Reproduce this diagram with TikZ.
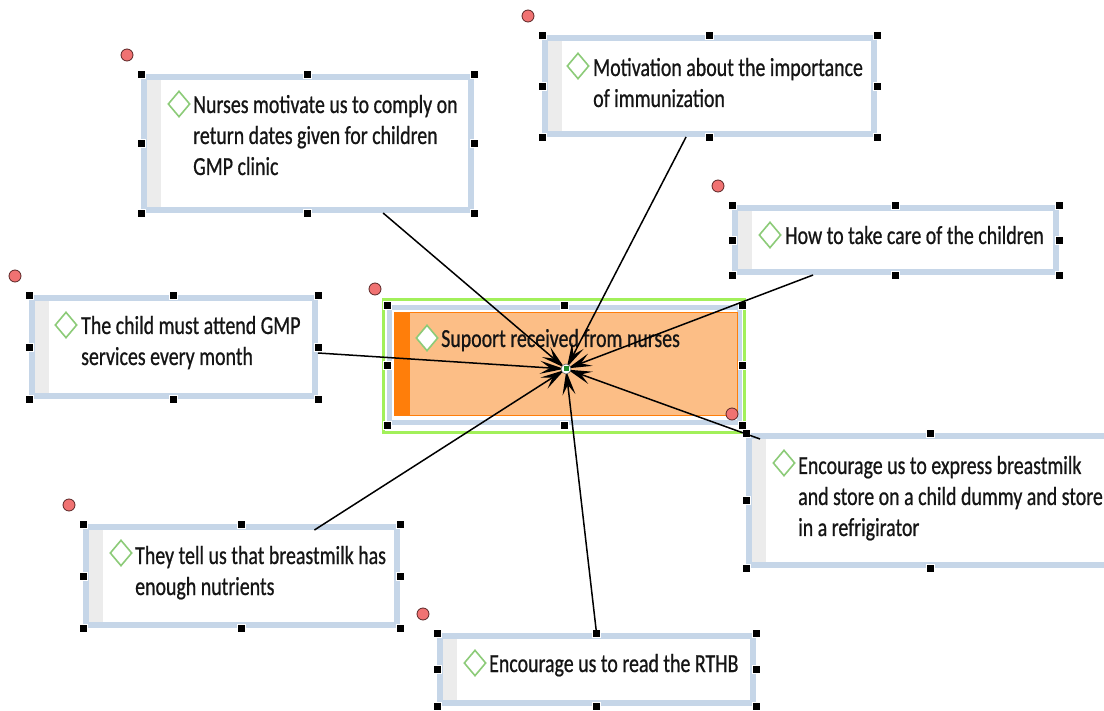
\documentclass[tikz,border=0pt]{standalone}
\usepackage{fontspec}
\setmainfont{Carlito}[FakeStretch=0.765,FakeBold=0.7]
\usetikzlibrary{calc,arrows.meta,shapes.geometric}

\definecolor{framecol}{HTML}{C6D6E8}
\definecolor{stripcol}{HTML}{ECECEC}
\definecolor{diamcol}{HTML}{8CCB78}
\definecolor{dotcol}{HTML}{F07272}
\definecolor{dotline}{HTML}{5A2525}
\definecolor{limecol}{HTML}{A2F05A}
\definecolor{peach}{HTML}{FCBE86}
\definecolor{orangecol}{HTML}{FF7E0A}
\definecolor{inkcol}{HTML}{151515}
\definecolor{hubgreen}{HTML}{1E8A2A}

\tikzset{
  framebox/.style={draw=framecol, line width=6pt, inner sep=0pt, outer sep=3pt, fill=white},
  handle/.style={fill=black, draw=white, line width=0.6pt},
  reddot/.style={circle, fill=dotcol, draw=dotline, line width=0.8pt, minimum size=12pt, inner sep=0pt},
  diam/.style={diamond, draw=diamcol, fill=white, line width=1.6pt, minimum width=22pt, minimum height=26pt, inner sep=0pt},
  txt/.style={anchor=base west, inner sep=0pt, text=inkcol, font=\fontsize{26}{31}\selectfont},
  link/.style={draw=black, line width=1.5pt, -{Stealth[length=24pt,width=13pt,inset=10pt]}, shorten >=2pt},
}

% a framed item: name, left, top, right, bottom
\newcommand\itembox[5]{%
  \node[framebox, minimum width={#4-#2-6}, minimum height={#5-#3-6}] (#1) at ({(#2+#4)/2},{(#3+#5)/2}) {};
  \fill[stripcol] (#2+6,#3+6) rectangle (#2+20,#5-6);
  \foreach \a in {north west,north,north east,west,east,south west,south,south east}
    \path[handle] (#1.\a) +(-4,-4) rectangle +(4,4);
  \node[reddot] (#1-dot) at (#2-14,#3-19) {};
}

\begin{document}
\begin{tikzpicture}[x=1pt,y=-1pt]
\useasboundingbox (0,0) rectangle (1104,711);
\clip (0,0) rectangle (1104,711);

% central topic
\node[draw=limecol, line width=3pt, minimum width=361pt, minimum height=133pt, inner sep=0pt] (hubsel) at (564,366) {};
\node[draw=framecol, line width=5pt, minimum width=350pt, minimum height=115pt, inner sep=0pt, outer sep=2.5pt] (hubbox) at (564.5,365) {};
\node[fill=peach, draw=orangecol, line width=1pt, minimum width=343pt, minimum height=103pt, inner sep=0pt] (hubfill) at (565.5,364.5) {};
\fill[orangecol] (hubfill.north west) rectangle ($(hubfill.south west)+(16,0)$);
\foreach \a in {north west,north,north east,west,east,south west,south,south east}
  \path[handle] (hubbox.\a) +(-4,-4) rectangle +(4,4);
\node[reddot] (hubbox-dot) at (375,289) {};
\node[diam] (d0) at (427,338) {};
\node[txt] (t0) at (441,347) {Supoort received from nurses};

% surrounding items
\itembox{b1}{141}{74}{474}{213}
\itembox{b2}{542}{35}{877}{137}
\itembox{b3}{732}{205}{1059}{275}
\itembox{b4}{29}{295}{318}{399}
\itembox{b5}{746}{433}{1114}{568}
\itembox{b6}{83}{524}{400}{628}
\itembox{b7}{437}{633}{756}{706}

\node[diam] (d1) at (179,104) {};
\node[txt] (t1) at (193,113) {\begin{tabular}[t]{@{}l@{}}Nurses motivate us to comply on\\return dates given for children\\GMP clinic\end{tabular}};
\node[diam] (d2) at (578,66) {};
\node[txt] (t2) at (593,76) {\begin{tabular}[t]{@{}l@{}}Motivation about the importance\\of immunization\end{tabular}};
\node[diam] (d3) at (770,235) {};
\node[txt] (t3) at (785,244) {How to take care of the children};
\node[diam] (d4) at (66,325) {};
\node[txt] (t4) at (81,334) {\begin{tabular}[t]{@{}l@{}}The child must attend GMP\\services every month\end{tabular}};
\node[diam] (d5) at (784,463) {};
\node[txt] (t5) at (798,474) {\begin{tabular}[t]{@{}l@{}}Encourage us to express breastmilk\\and store on a child dummy and store\\in a refrigirator\end{tabular}};
\node[diam] (d6) at (121,553) {};
\node[txt] (t6) at (135,564) {\begin{tabular}[t]{@{}l@{}}They tell us that breastmilk has\\enough nutrients\end{tabular}};
\node[diam] (d7) at (475,663) {};
\node[txt] (t7) at (489,672) {Encourage us to read the RTHB};

% hub point
\coordinate (hub) at (566,369);

% connectors into the hub
\draw[link] ($(b1.south west)!0.727!(b1.south east)$) -- (hub);
\draw[link] ($(b2.south west)!0.43!(b2.south east)$) -- (hub);
\draw[link] ($(b3.south west)!0.248!(b3.south east)$) -- (hub);
\draw[link] ($(b4.east)+(0,6)$) -- (hub);
\draw[link] ($(b5.north west)+(14,6)$) -- (hub);
\draw[link] ($(b6.north west)!0.73!(b6.north east)+(0,6)$) -- (hub);
\draw[link] (b7.north) -- (hub);

\node[circle, fill=white, draw=black!60, line width=0.6pt, minimum size=10pt, inner sep=0pt] (hubring) at (hub) {};
\node[fill=hubgreen, minimum size=5pt, inner sep=0pt] (hubmark) at (hub) {};
\end{tikzpicture}
\end{document}
